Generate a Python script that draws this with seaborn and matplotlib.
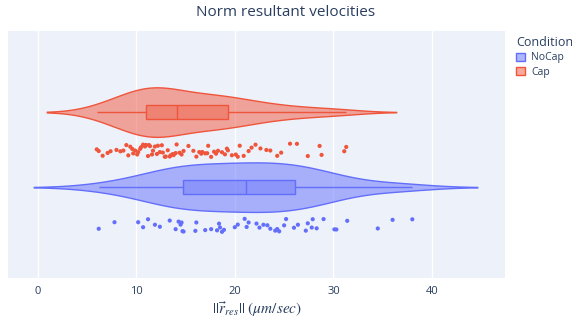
import matplotlib
matplotlib.use("Agg")
import matplotlib.pyplot as plt
from matplotlib.patches import Patch
import pandas as pd
import seaborn as sns

# Values
cap_velocity = [6.0, 6.2, 6.6, 7.1, 7.4, 8.0, 8.4, 8.7, 9.0, 9.2, 9.4, 9.6, 9.7, 9.9,
                10.1, 10.2, 10.4, 10.5, 10.7, 10.9, 11.0, 11.2, 11.3, 11.4, 11.6, 11.7,
                11.9, 12.1, 12.2, 12.4, 12.6, 12.7, 12.9, 13.0, 13.2, 13.4, 13.5, 13.7,
                13.8, 14.0, 14.1, 14.4, 14.6, 14.8, 15.3, 15.8, 16.1, 16.4, 16.6, 16.7,
                17.0, 17.2, 17.3, 17.6, 17.9, 18.1, 18.3, 18.7, 19.0, 19.2, 19.3, 19.7,
                20.1, 20.3, 20.5, 20.9, 21.4, 21.7, 22.1, 22.6, 23.2, 23.6, 24.3, 24.7,
                25.6, 26.3, 27.4, 28.6, 28.8, 31.1, 31.3]
nocap_velocity = [6.2, 7.8, 10.2, 10.7, 11.2, 11.9, 12.4, 13.4, 14.0, 14.3, 14.5, 14.6,
                  14.7, 14.8, 16.0, 16.1, 17.0, 17.6, 18.2, 18.4, 18.5, 18.7, 18.9, 20.0,
                  20.3, 21.0, 21.2, 21.4, 22.2, 22.5, 22.9, 23.3, 23.6, 24.1, 24.3, 24.5,
                  25.0, 25.2, 26.0, 26.4, 27.2, 27.4, 27.8, 27.9, 28.3, 29.0, 30.1, 30.3,
                  31.4, 34.5, 36.0, 38.0]
conditions = ["NoCap", "Cap"]
x_ticks = [0, 10, 20, 30, 40]

df = pd.DataFrame({
    "Velocity": nocap_velocity + cap_velocity,
    "Condition": ["NoCap"] * len(nocap_velocity) + ["Cap"] * len(cap_velocity),
})

colors = {"NoCap": "#636EFA", "Cap": "#EF553B"}
order = ["Cap", "NoCap"]
text_color = "#2a3f5f"
bg = "#EDF1FA"

plt.rcParams["font.family"] = ["Open Sans", "DejaVu Sans"]
plt.rcParams["mathtext.fontset"] = "stix"

fig = plt.figure(figsize=(5.72, 3.22), dpi=100)
ax = fig.add_axes([8 / 572, 44 / 322, 497 / 572, 247 / 322])
ax.set_facecolor(bg)

# violins
sns.violinplot(data=df, x="Velocity", y="Condition", hue="Condition", order=order,
               hue_order=order, palette=colors, inner=None, density_norm="area",
               width=0.66, cut=2, linewidth=1.0, saturation=1, legend=False, ax=ax)
for coll in ax.collections:
    rgb = coll.get_facecolor()[0][:3]
    coll.set_facecolor((*rgb, 0.5))
    coll.set_edgecolor(rgb)

# boxes inside the violins
for cond in conditions:
    sub = df[df["Condition"] == cond]
    c = matplotlib.colors.to_rgb(colors[cond])
    sns.boxplot(data=sub, x="Velocity", y="Condition", order=order, color=colors[cond],
                linecolor=colors[cond], width=0.18, showcaps=False, showfliers=False,
                linewidth=1.0, saturation=1, boxprops=dict(facecolor=(*c, 0.4)), ax=ax)

ax.set_xlim(-3.0, 47.4)
ax.set_ylim(2.21, -1.08)
ax.set_xticks(x_ticks)
ax.set_yticks([])
ax.grid(axis="x", color="white", linewidth=1)
ax.set_axisbelow(True)
ax.tick_params(axis="x", length=0, pad=6, labelsize=8, labelcolor=text_color)
for s in ax.spines.values():
    s.set_visible(False)
ax.set_ylabel("")
ax.set_xlabel(r"$||\vec{r}_{res}||\ (\mu m/sec)$", fontsize=11, color=text_color, labelpad=2)

# points beside each violin, on a shifted twin axis
ax2 = ax.twinx()
sns.stripplot(data=df, x="Velocity", y="Condition", hue="Condition", order=order,
              hue_order=order, palette=colors, jitter=0.09, size=3.0, linewidth=0,
              legend=False, ax=ax2)
ax2.set_ylim(2.21 - 0.51, -1.08 - 0.51)
ax2.set_yticks([])
ax2.set_ylabel("")
ax2.set_xlim(-3.0, 47.4)
for s in ax2.spines.values():
    s.set_visible(False)

fig.text(0.5, 1 - 12 / 322, "Norm resultant velocities", ha="center", va="center",
         fontsize=11, color=text_color)

handles = [Patch(facecolor=(*matplotlib.colors.to_rgb(colors[c]), 0.5),
                 edgecolor=colors[c], label=c) for c in conditions]
leg = fig.legend(handles=handles, title="Condition", loc="upper left",
                 bbox_to_anchor=(508 / 572, 1 - 28 / 322), frameon=False, fontsize=7.5,
                 title_fontsize=9, alignment="left", handlelength=0.8,
                 handleheight=0.8, handletextpad=0.6, labelspacing=0.3,
                 borderpad=0.3)
for t in leg.get_texts():
    t.set_color(text_color)
leg.get_title().set_color(text_color)

fig.savefig("out.png", dpi=100)
